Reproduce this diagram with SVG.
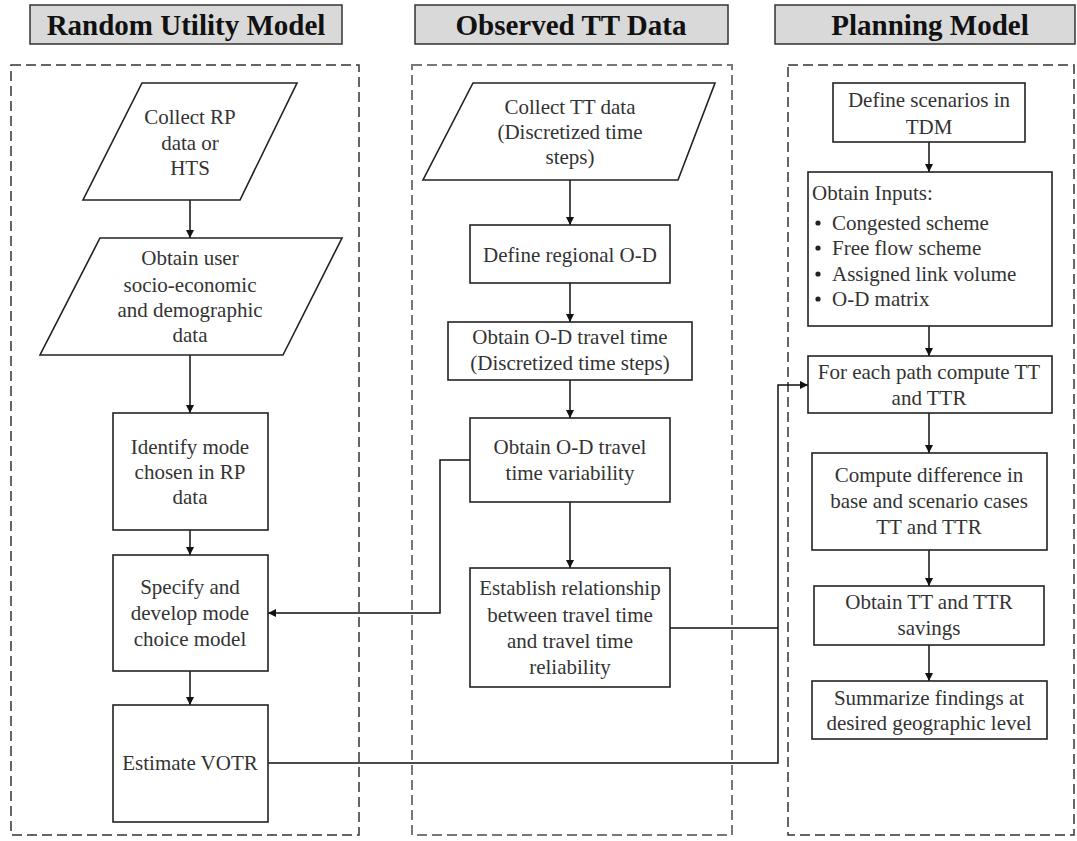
<svg xmlns="http://www.w3.org/2000/svg" width="1077" height="841" viewBox="0 0 1077 841">
  <style>
    .bg { fill: #ffffff; }
    .title-box { fill: #d9d9d9; stroke: #333333; stroke-width: 1.5; }
    .title { font-family: "Liberation Serif", "Times New Roman", serif; font-size: 29px; font-weight: bold; fill: #111111; text-anchor: middle; }
    .frame { fill: none; stroke: #333333; stroke-width: 1.5; stroke-dasharray: 10 5; }
    .frame-light { fill: none; stroke: #777777; stroke-width: 2; stroke-dasharray: 10 5; }
    .node { fill: #ffffff; stroke: #222222; stroke-width: 1.6; }
    .label { font-family: "Liberation Serif", "Times New Roman", serif; font-size: 21px; fill: #333333; text-anchor: middle; }
    .label-left { font-family: "Liberation Serif", "Times New Roman", serif; font-size: 21px; fill: #333333; }
    .edge { fill: none; stroke: #111111; stroke-width: 1.5; }
  </style>
  <defs>
    <marker id="arrow" viewBox="0 0 10 10" refX="10" refY="5" markerWidth="8" markerHeight="8" markerUnits="userSpaceOnUse" orient="auto">
      <path d="M0,0 L10,5 L0,10 Z" fill="#111111"/>
    </marker>
  </defs>

  <rect class="bg" x="0" y="0" width="1077" height="841"/>

  <!-- column headings -->
  <g id="heading-rum">
    <rect class="title-box" x="30" y="5" width="312" height="39"/>
    <text class="title" x="186" y="35">Random Utility Model</text>
  </g>
  <g id="heading-observed">
    <rect class="title-box" x="415" y="5" width="313" height="39"/>
    <text class="title" x="571" y="35">Observed TT Data</text>
  </g>
  <g id="heading-planning">
    <rect class="title-box" x="775" y="5" width="300" height="39"/>
    <text class="title" x="930" y="35">Planning Model</text>
  </g>

  <!-- dashed column frames -->
  <g id="frames">
    <rect class="frame" x="11" y="65" width="348" height="770"/>
    <rect class="frame-light" x="412" y="65" width="320" height="770"/>
    <rect class="frame" x="788" y="65" width="286" height="770"/>
  </g>

  <!-- connectors -->
  <g id="connectors">
    <line class="edge" x1="190" y1="200" x2="190" y2="238" marker-end="url(#arrow)"/>
    <line class="edge" x1="190" y1="355" x2="190" y2="413" marker-end="url(#arrow)"/>
    <line class="edge" x1="190" y1="530" x2="190" y2="555" marker-end="url(#arrow)"/>
    <line class="edge" x1="190" y1="671" x2="190" y2="705" marker-end="url(#arrow)"/>

    <line class="edge" x1="570" y1="180" x2="570" y2="225" marker-end="url(#arrow)"/>
    <line class="edge" x1="570" y1="283" x2="570" y2="322" marker-end="url(#arrow)"/>
    <line class="edge" x1="570" y1="380" x2="570" y2="418" marker-end="url(#arrow)"/>
    <line class="edge" x1="570" y1="502" x2="570" y2="568" marker-end="url(#arrow)"/>

    <line class="edge" x1="929" y1="142" x2="929" y2="172" marker-end="url(#arrow)"/>
    <line class="edge" x1="929" y1="326" x2="929" y2="356" marker-end="url(#arrow)"/>
    <line class="edge" x1="929" y1="413" x2="929" y2="453" marker-end="url(#arrow)"/>
    <line class="edge" x1="929" y1="550" x2="929" y2="586" marker-end="url(#arrow)"/>
    <line class="edge" x1="929" y1="645" x2="929" y2="681" marker-end="url(#arrow)"/>

    <!-- variability feeds the mode choice model -->
    <polyline class="edge" points="470,460 440,460 440,613 268,613" marker-end="url(#arrow)"/>
    <!-- VOTR and TT/TTR relationship feed the path computation -->
    <polyline class="edge" points="268,763 778,763 778,385 808,385" marker-end="url(#arrow)"/>
    <line class="edge" x1="670" y1="628" x2="778" y2="628"/>
  </g>

  <!-- Random Utility Model column -->
  <g id="collect-rp">
    <polygon class="node" points="142,83 297,83 240,200 83,200"/>
    <text class="label" x="190" y="124">Collect RP</text>
    <text class="label" x="190" y="150">data or</text>
    <text class="label" x="190" y="175">HTS</text>
  </g>
  <g id="user-data">
    <polygon class="node" points="100,238 342,238 283,355 40,355"/>
    <text class="label" x="190" y="265">Obtain user</text>
    <text class="label" x="190" y="292">socio-economic</text>
    <text class="label" x="190" y="317">and demographic</text>
    <text class="label" x="190" y="342">data</text>
  </g>
  <g id="identify-mode">
    <rect class="node" x="113" y="413" width="155" height="117"/>
    <text class="label" x="190" y="454">Identify mode</text>
    <text class="label" x="190" y="479">chosen in RP</text>
    <text class="label" x="190" y="504">data</text>
  </g>
  <g id="mode-choice">
    <rect class="node" x="113" y="555" width="155" height="116"/>
    <text class="label" x="190" y="594">Specify and</text>
    <text class="label" x="190" y="620">develop mode</text>
    <text class="label" x="190" y="646">choice model</text>
  </g>
  <g id="estimate-votr">
    <rect class="node" x="113" y="705" width="155" height="117"/>
    <text class="label" x="190" y="770">Estimate VOTR</text>
  </g>

  <!-- Observed TT Data column -->
  <g id="collect-tt">
    <polygon class="node" points="473,83 715,83 678,180 423,180"/>
    <text class="label" x="570" y="114">Collect TT data</text>
    <text class="label" x="570" y="139">(Discretized time</text>
    <text class="label" x="570" y="164">steps)</text>
  </g>
  <g id="regional-od">
    <rect class="node" x="470" y="225" width="200" height="58"/>
    <text class="label" x="570" y="262">Define regional O-D</text>
  </g>
  <g id="od-travel-time">
    <rect class="node" x="448" y="322" width="244" height="58"/>
    <text class="label" x="570" y="344">Obtain O-D travel time</text>
    <text class="label" x="570" y="370">(Discretized time steps)</text>
  </g>
  <g id="od-variability">
    <rect class="node" x="470" y="418" width="200" height="84"/>
    <text class="label" x="570" y="454">Obtain O-D travel</text>
    <text class="label" x="570" y="480">time variability</text>
  </g>
  <g id="relationship">
    <rect class="node" x="470" y="568" width="200" height="119"/>
    <text class="label" x="570" y="595">Establish relationship</text>
    <text class="label" x="570" y="622">between travel time</text>
    <text class="label" x="570" y="648">and travel time</text>
    <text class="label" x="570" y="674">reliability</text>
  </g>

  <!-- Planning Model column -->
  <g id="scenarios">
    <rect class="node" x="833" y="83" width="192" height="59"/>
    <text class="label" x="929" y="107">Define scenarios in</text>
    <text class="label" x="929" y="134">TDM</text>
  </g>
  <g id="inputs">
    <rect class="node" x="808" y="172" width="244" height="154"/>
    <text class="label-left" x="812" y="200">Obtain Inputs:</text>
    <circle cx="818" cy="223" r="2.6" fill="#222222"/>
    <text class="label-left" x="832" y="230">Congested scheme</text>
    <circle cx="818" cy="248" r="2.6" fill="#222222"/>
    <text class="label-left" x="832" y="255">Free flow scheme</text>
    <circle cx="818" cy="274" r="2.6" fill="#222222"/>
    <text class="label-left" x="832" y="281">Assigned link volume</text>
    <circle cx="818" cy="299" r="2.6" fill="#222222"/>
    <text class="label-left" x="832" y="306">O-D matrix</text>
  </g>
  <g id="path-tt">
    <rect class="node" x="808" y="356" width="244" height="57"/>
    <text class="label" x="929" y="379">For each path compute TT</text>
    <text class="label" x="929" y="405">and TTR</text>
  </g>
  <g id="difference">
    <rect class="node" x="812" y="453" width="235" height="97"/>
    <text class="label" x="929" y="482">Compute difference in</text>
    <text class="label" x="929" y="508">base and scenario cases</text>
    <text class="label" x="929" y="534">TT and TTR</text>
  </g>
  <g id="savings">
    <rect class="node" x="814" y="586" width="230" height="59"/>
    <text class="label" x="929" y="609">Obtain TT and TTR</text>
    <text class="label" x="929" y="635">savings</text>
  </g>
  <g id="summarize">
    <rect class="node" x="812" y="681" width="235" height="58"/>
    <text class="label" x="929" y="705">Summarize findings at</text>
    <text class="label" x="929" y="730">desired geographic level</text>
  </g>
</svg>
